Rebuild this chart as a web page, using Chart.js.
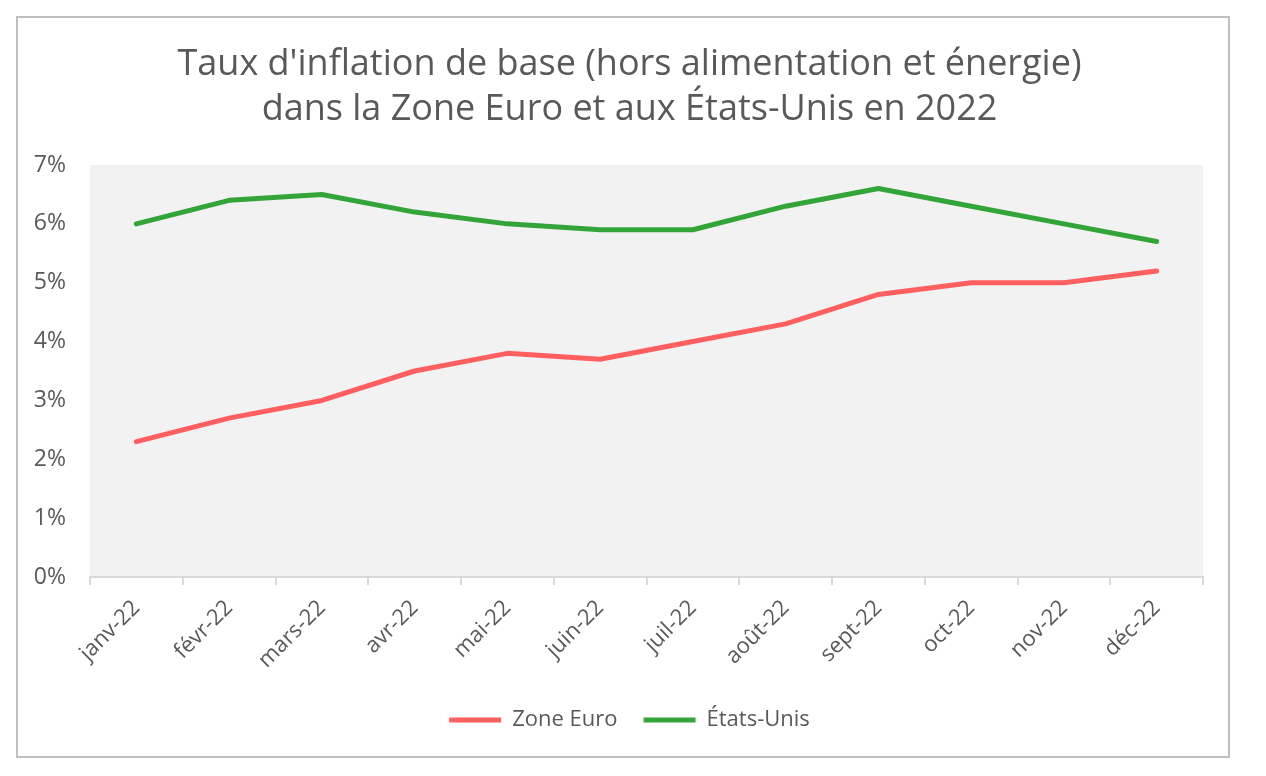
<!DOCTYPE html>
<html>
<head>
<meta charset="utf-8">
<script src="https://cdn.jsdelivr.net/npm/chart.js@4"></script>
<style>
  body { margin: 0; background: #fff; }
  #box {
    position: absolute; left: 16px; top: 16px;
    width: 1210px; height: 738px;
    border: 2px solid #bfbfbf;
  }
</style>
</head>
<body>
<div id="box"><canvas id="canvas" width="1210" height="738"></canvas></div>
<script>
// months of 2022
const months = ['janv-22', 'févr-22', 'mars-22', 'avr-22', 'mai-22', 'juin-22',
  'juil-22', 'août-22', 'sept-22', 'oct-22', 'nov-22', 'déc-22'];
const zoneEuro = [2.3, 2.7, 3.0, 3.5, 3.8, 3.7, 4.0, 4.3, 4.8, 5.0, 5.0, 5.2];
const etatsUnis = [6.0, 6.4, 6.5, 6.2, 6.0, 5.9, 5.9, 6.3, 6.6, 6.3, 6.0, 5.7];
const yTicks = [0, 1, 2, 3, 4, 5, 6, 7];

const grey = '#595959';
Chart.defaults.font.family = '"Open Sans", sans-serif';
Chart.defaults.color = grey;

// grey plot background like excel
const plotBg = {
  id: 'plotBg',
  beforeDraw(chart) {
    const a = chart.chartArea;
    chart.ctx.save();
    chart.ctx.fillStyle = '#f2f2f2';
    chart.ctx.fillRect(a.left, a.top, a.right - a.left, a.bottom - a.top);
    chart.ctx.restore();
  }
};

function lineSet(label, data, color) {
  return {
    label: label,
    data: data,
    borderColor: color,
    backgroundColor: color,
    borderWidth: 5,
    borderCapStyle: 'round',
    borderJoinStyle: 'round',
    pointRadius: 0,
    tension: 0
  };
}

var canvas = document.getElementById('canvas');
var myChart = new Chart(canvas, {
  type: 'line',
  data: {
    labels: months,
    datasets: [
      lineSet('Zone Euro', zoneEuro, '#ff5f5f'),
      lineSet('États-Unis', etatsUnis, '#33a538')
    ]
  },
  plugins: [plotBg],
  options: {
    responsive: false,
    animation: false,
    layout: { padding: { left: 13, right: 0, top: 0, bottom: 15 } },
    plugins: {
      title: {
        display: true,
        text: ["Taux d'inflation de base (hors alimentation et énergie)",
               'dans la Zone Euro et aux États-Unis en 2022'],
        color: grey,
        font: { size: 36, weight: 'normal', lineHeight: 1.25 },
        padding: { top: 24, bottom: 33 }
      },
      legend: {
        position: 'bottom',
        labels: {
          usePointStyle: true,
          pointStyle: 'line',
          pointStyleWidth: 52,
          color: grey,
          font: { size: 22 },
          padding: 26
        }
      },
      tooltip: { enabled: false }
    },
    scales: {
      x: {
        offset: true,
        grid: {
          offset: true,
          drawOnChartArea: false,
          drawTicks: true,
          tickLength: 8,
          color: '#d9d9d9',
          lineWidth: 2
        },
        border: { color: '#d9d9d9', width: 2 },
        ticks: {
          minRotation: 45,
          maxRotation: 45,
          font: { size: 22 },
          color: grey,
          padding: 10
        },
        afterFit(scale) { scale.height = 106; }
      },
      y: {
        min: 0,
        max: 7,
        afterBuildTicks(scale) { scale.ticks = yTicks.map(v => ({ value: v })); },
        grid: { display: false, drawTicks: false },
        border: { display: false },
        ticks: {
          padding: 24,
          font: { size: 23 },
          color: grey,
          callback: v => v + '%'
        },
        afterFit(scale) { scale.width = 59; }
      },
      // empty right axis, only keeps a margin right of the plot
      yRight: {
        position: 'right',
        grid: { display: false },
        border: { display: false },
        ticks: { display: false },
        afterFit(scale) { scale.width = 25; }
      }
    }
  }
});
</script>
</body>
</html>
